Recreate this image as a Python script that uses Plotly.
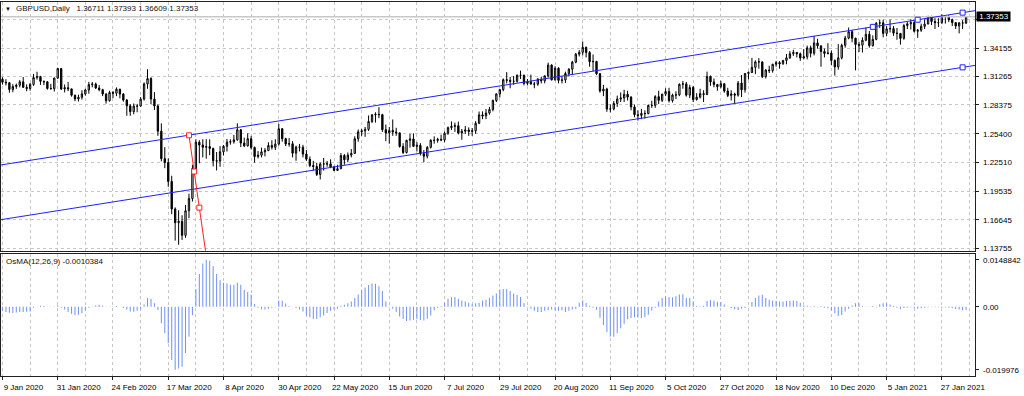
import plotly.graph_objects as go

# ---------------- data ----------------
symbol_title = "GBPUSD,Daily\u00a0\u00a0 1.36711 1.37393 1.36609 1.37353"
indicator_title = "OsMA(12,26,9) -0.0010384"

date_labels = ["9 Jan 2020", "31 Jan 2020", "24 Feb 2020", "17 Mar 2020", "8 Apr 2020",
               "30 Apr 2020", "22 May 2020", "15 Jun 2020", "7 Jul 2020", "29 Jul 2020",
               "20 Aug 2020", "11 Sep 2020", "5 Oct 2020", "27 Oct 2020", "18 Nov 2020",
               "10 Dec 2020", "5 Jan 2021", "27 Jan 2021"]
date_label_bars = [0, 16, 32, 48, 64, 80, 96, 112, 128, 144, 160, 176, 192, 208, 224, 240, 256, 272]

price_ticks = [1.37045, 1.34155, 1.31265, 1.28375, 1.25400, 1.22510, 1.19535, 1.16645, 1.13755]
price_tick_labels = ["", "1.34155", "1.31265", "1.28375", "1.25400", "1.22510", "1.19535", "1.16645", "1.13755"]

osma_ticks = [0.0148842, 0.0, -0.019976]
osma_tick_labels = ["0.0148842", "0.00", "-0.019976"]

opens = [
    1.3098,1.3067,1.3062,1.2993,1.3023,1.3036,1.3071,1.3015,1.3003,1.3045,
    1.3114,1.3124,1.3076,1.3071,1.3003,1.3001,1.3109,1.3206,1.2998,1.3011,
    1.2999,1.2934,1.2896,1.2913,1.2948,1.2988,1.3043,1.3048,1.3008,1.2991,
    1.2947,1.2878,1.2962,1.2955,1.2996,1.2947,1.2885,1.2826,1.2767,1.2823,
    1.2824,1.2895,1.3049,1.3104,1.2895,1.2825,1.2567,1.2287,1.2248,1.2055,
    1.1774,1.1634,1.1647,1.1505,1.1756,1.1881,1.2185,1.2455,1.2426,1.2403,
    1.2411,1.2391,1.2266,1.2263,1.2357,1.2413,1.2456,1.2460,1.2480,1.2582,
    1.2446,1.2418,1.2491,1.2402,1.2309,1.2323,1.2357,1.2369,1.2421,1.2403,
    1.2436,1.2592,1.2491,1.2437,1.2439,1.2343,1.2405,1.2404,1.2334,1.2282,
    1.2218,1.2207,1.2126,1.2232,1.2234,1.2234,1.2202,1.2167,1.2185,1.2319,
    1.2276,1.2323,1.2341,1.2490,1.2561,1.2571,1.2586,1.2666,1.2733,1.2739,
    1.2736,1.2583,1.2549,1.2575,1.2560,1.2550,1.2411,1.2350,1.2474,1.2488,
    1.2413,1.2423,1.2337,1.2312,1.2403,1.2475,1.2473,1.2484,1.2478,1.2546,
    1.2604,1.2617,1.2624,1.2549,1.2567,1.2580,1.2565,1.2572,1.2648,1.2734,
    1.2723,1.2753,1.2788,1.2881,1.2948,1.2992,1.3093,1.3086,1.3076,1.3076,
    1.3139,1.3138,1.3055,1.3071,1.3050,1.3047,1.3097,1.3081,1.3132,1.3242,
    1.3091,1.3210,1.3086,1.3090,1.3156,1.3200,1.3272,1.3353,1.3372,1.3423,
    1.3370,1.3276,1.3279,1.3154,1.2977,1.2997,1.2793,1.2795,1.2850,1.2895,
    1.2906,1.2944,1.2915,1.2815,1.2736,1.2728,1.2749,1.2747,1.2830,1.2831,
    1.2920,1.2882,1.2945,1.2972,1.2879,1.2936,1.2938,1.3046,1.3050,1.2935,
    1.3013,1.2890,1.2915,1.2951,1.2942,1.3126,1.3070,1.3043,1.3022,1.3052,
    1.2977,1.2932,1.2947,1.2935,1.3058,1.2990,1.3156,1.3166,1.3219,1.3275,
    1.3274,1.3124,1.3191,1.3185,1.3250,1.3267,1.3255,1.3289,1.3316,1.3357,
    1.3371,1.3357,1.3314,1.3327,1.3418,1.3362,1.3468,1.3438,1.3380,1.3360,
    1.3364,1.3289,1.3223,1.3316,1.3443,1.3517,1.3582,1.3516,1.3452,1.3445,
    1.3495,1.3556,1.3440,1.3504,1.3669,1.3673,1.3565,1.3611,1.3614,1.3568,
    1.3565,1.3514,1.3645,1.3663,1.3675,1.3587,1.3597,1.3637,1.3660,1.3733,
    1.3687,1.3674,1.3675,1.3737,1.3735,1.3705,1.3675,1.3641,1.3672,1.36711]

highs = [
    1.3118,1.3098,1.3068,1.3047,1.3053,1.3089,1.3120,1.3044,1.3059,1.3152,
    1.3174,1.3132,1.3084,1.3078,1.3050,1.3115,1.3214,1.3208,1.3044,1.3070,
    1.3002,1.2941,1.2940,1.2985,1.3000,1.3070,1.3069,1.3063,1.3038,1.3000,
    1.2954,1.2980,1.2978,1.3014,1.3000,1.2955,1.2895,1.2844,1.2850,1.2846,
    1.2915,1.3065,1.3200,1.3118,1.2966,1.2840,1.2647,1.2405,1.2290,1.2113,
    1.1790,1.1760,1.1710,1.1815,1.1930,1.2225,1.2485,1.2475,1.2485,1.2486,
    1.2484,1.2400,1.2355,1.2415,1.2426,1.2488,1.2485,1.2530,1.2648,1.2590,
    1.2502,1.2545,1.2520,1.2410,1.2365,1.2400,1.2395,1.2455,1.2475,1.2485,
    1.2643,1.2600,1.2500,1.2497,1.2466,1.2420,1.2438,1.2428,1.2375,1.2310,
    1.2265,1.2245,1.2248,1.2295,1.2263,1.2280,1.2215,1.2225,1.2345,1.2335,
    1.2350,1.2385,1.2515,1.2585,1.2590,1.2610,1.2728,1.2743,1.2760,1.2812,
    1.2745,1.2635,1.2610,1.2687,1.2602,1.2555,1.2445,1.2480,1.2540,1.2545,
    1.2455,1.2445,1.2375,1.2415,1.2485,1.2515,1.2500,1.2532,1.2565,1.2615,
    1.2667,1.2655,1.2665,1.2590,1.2620,1.2606,1.2600,1.2670,1.2768,1.2770,
    1.2793,1.2815,1.2890,1.2952,1.2993,1.3105,1.3170,1.3120,1.3130,1.3145,
    1.3185,1.3145,1.3100,1.3145,1.3070,1.3110,1.3120,1.3135,1.3267,1.3250,
    1.3230,1.3220,1.3130,1.3175,1.3210,1.3285,1.3365,1.3395,1.3482,1.3430,
    1.3385,1.3350,1.3285,1.3160,1.3040,1.3010,1.2840,1.2875,1.2930,1.2963,
    1.2990,1.2980,1.2925,1.2840,1.2780,1.2795,1.2780,1.2840,1.2878,1.2935,
    1.2980,1.2950,1.3005,1.3010,1.2950,1.2975,1.3055,1.3080,1.3070,1.3040,
    1.3030,1.2955,1.3000,1.2985,1.3175,1.3135,1.3105,1.3050,1.3082,1.3055,
    1.3010,1.2985,1.2960,1.3080,1.3140,1.3160,1.3177,1.3315,1.3290,1.3313,
    1.3280,1.3200,1.3235,1.3255,1.3285,1.3282,1.3295,1.3355,1.3385,1.3398,
    1.3375,1.3370,1.3405,1.3440,1.3440,1.3540,1.3510,1.3440,1.3410,1.3465,
    1.3390,1.3300,1.3455,1.3460,1.3540,1.3625,1.3600,1.3520,1.3480,1.3525,
    1.3625,1.3590,1.3545,1.3680,1.3705,1.3705,1.3640,1.3705,1.3640,1.3620,
    1.3565,1.3660,1.3680,1.3710,1.3690,1.3610,1.3665,1.3710,1.3745,1.3745,
    1.3720,1.3720,1.3760,1.3745,1.3750,1.3715,1.3680,1.3680,1.3700,1.37393]

lows = [
    1.3043,1.3033,1.2960,1.2965,1.2999,1.3014,1.3008,1.2975,1.2981,1.3030,
    1.3093,1.3040,1.3037,1.2991,1.2992,1.2972,1.3101,1.2988,1.2963,1.2976,
    1.2920,1.2873,1.2870,1.2890,1.2930,1.2950,1.3015,1.2998,1.2975,1.2925,
    1.2849,1.2870,1.2905,1.2925,1.2903,1.2869,1.2725,1.2725,1.2740,1.2760,
    1.2816,1.2880,1.3000,1.2843,1.2784,1.2520,1.2260,1.2190,1.2000,1.1720,
    1.1451,1.1409,1.1458,1.1480,1.1680,1.1850,1.2150,1.2240,1.2300,1.2287,
    1.2322,1.2208,1.2167,1.2205,1.2320,1.2360,1.2430,1.2440,1.2470,1.2405,
    1.2405,1.2410,1.2380,1.2247,1.2290,1.2300,1.2310,1.2366,1.2380,1.2375,
    1.2420,1.2460,1.2415,1.2410,1.2300,1.2266,1.2361,1.2300,1.2265,1.2200,
    1.2165,1.2110,1.2075,1.2165,1.2205,1.2190,1.2160,1.2162,1.2180,1.2225,
    1.2250,1.2300,1.2335,1.2460,1.2520,1.2510,1.2570,1.2650,1.2655,1.2700,
    1.2560,1.2465,1.2440,1.2520,1.2520,1.2400,1.2335,1.2340,1.2400,1.2405,
    1.2360,1.2320,1.2252,1.2290,1.2390,1.2440,1.2450,1.2465,1.2455,1.2530,
    1.2580,1.2560,1.2535,1.2480,1.2540,1.2520,1.2520,1.2540,1.2640,1.2690,
    1.2690,1.2735,1.2770,1.2865,1.2910,1.2975,1.3055,1.3005,1.3040,1.3065,
    1.3100,1.3035,1.3035,1.3040,1.3005,1.3030,1.3055,1.3055,1.3115,1.3085,
    1.3085,1.3055,1.3055,1.3060,1.3125,1.3140,1.3260,1.3330,1.3340,1.3320,
    1.3225,1.3180,1.3140,1.2960,1.2925,1.2765,1.2760,1.2780,1.2815,1.2865,
    1.2865,1.2880,1.2780,1.2710,1.2676,1.2690,1.2695,1.2740,1.2805,1.2805,
    1.2845,1.2865,1.2925,1.2860,1.2860,1.2895,1.2925,1.3000,1.2920,1.2905,
    1.2865,1.2880,1.2900,1.2865,1.2935,1.3030,1.3015,1.2980,1.3005,1.2960,
    1.2915,1.2880,1.2855,1.2920,1.2915,1.2960,1.3095,1.3160,1.3150,1.3205,
    1.3110,1.3105,1.3160,1.3165,1.3225,1.3205,1.3245,1.3250,1.3305,1.3335,
    1.3320,1.3285,1.3300,1.3300,1.3320,1.3340,1.3410,1.3225,1.3320,1.3350,
    1.3240,1.3134,1.3195,1.3300,1.3420,1.3505,1.3475,1.3188,1.3375,1.3370,
    1.3485,1.3420,1.3430,1.3495,1.3620,1.3525,1.3535,1.3575,1.3540,1.3500,
    1.3450,1.3500,1.3610,1.3605,1.3575,1.3520,1.3580,1.3610,1.3660,1.3650,
    1.3610,1.3630,1.3660,1.3665,1.3680,1.3640,1.3610,1.3565,1.3610,1.36609]

closes = [
    1.3067,1.3062,1.2993,1.3023,1.3036,1.3071,1.3015,1.3003,1.3045,1.3114,
    1.3124,1.3076,1.3071,1.3003,1.3001,1.3109,1.3206,1.2998,1.3011,1.2999,
    1.2934,1.2896,1.2913,1.2948,1.2988,1.3043,1.3048,1.3008,1.2991,1.2947,
    1.2878,1.2962,1.2955,1.2996,1.2947,1.2885,1.2826,1.2767,1.2823,1.2824,
    1.2895,1.3049,1.3104,1.2895,1.2825,1.2567,1.2287,1.2248,1.2055,1.1774,
    1.1634,1.1647,1.1505,1.1756,1.1881,1.2185,1.2455,1.2426,1.2403,1.2411,
    1.2391,1.2266,1.2263,1.2357,1.2413,1.2456,1.2460,1.2480,1.2582,1.2446,
    1.2418,1.2491,1.2402,1.2309,1.2323,1.2357,1.2369,1.2421,1.2403,1.2436,
    1.2592,1.2491,1.2437,1.2439,1.2343,1.2405,1.2404,1.2334,1.2282,1.2218,
    1.2207,1.2126,1.2232,1.2234,1.2234,1.2202,1.2167,1.2185,1.2319,1.2276,
    1.2323,1.2341,1.2490,1.2561,1.2571,1.2586,1.2666,1.2733,1.2739,1.2736,
    1.2583,1.2549,1.2575,1.2560,1.2550,1.2411,1.2350,1.2474,1.2488,1.2413,
    1.2423,1.2337,1.2312,1.2403,1.2475,1.2473,1.2484,1.2478,1.2546,1.2604,
    1.2617,1.2624,1.2549,1.2567,1.2580,1.2565,1.2572,1.2648,1.2734,1.2723,
    1.2753,1.2788,1.2881,1.2948,1.2992,1.3093,1.3086,1.3076,1.3076,1.3139,
    1.3138,1.3055,1.3071,1.3050,1.3047,1.3097,1.3081,1.3132,1.3242,1.3091,
    1.3210,1.3086,1.3090,1.3156,1.3200,1.3272,1.3353,1.3372,1.3423,1.3370,
    1.3276,1.3279,1.3154,1.2977,1.2997,1.2793,1.2795,1.2850,1.2895,1.2906,
    1.2944,1.2915,1.2815,1.2736,1.2728,1.2749,1.2747,1.2830,1.2831,1.2920,
    1.2882,1.2945,1.2972,1.2879,1.2936,1.2938,1.3046,1.3050,1.2935,1.3013,
    1.2890,1.2915,1.2951,1.2942,1.3126,1.3070,1.3043,1.3022,1.3052,1.2977,
    1.2932,1.2947,1.2935,1.3058,1.2990,1.3156,1.3166,1.3219,1.3275,1.3274,
    1.3124,1.3191,1.3185,1.3250,1.3267,1.3255,1.3289,1.3316,1.3357,1.3371,
    1.3357,1.3314,1.3327,1.3418,1.3362,1.3468,1.3438,1.3380,1.3360,1.3364,
    1.3289,1.3223,1.3316,1.3443,1.3517,1.3582,1.3516,1.3452,1.3445,1.3495,
    1.3556,1.3440,1.3504,1.3669,1.3673,1.3565,1.3611,1.3614,1.3568,1.3565,
    1.3514,1.3645,1.3663,1.3675,1.3587,1.3597,1.3637,1.3660,1.3733,1.3687,
    1.3674,1.3675,1.3737,1.3735,1.3705,1.3675,1.3641,1.3672,1.3671,1.37353]

osma = [
    -0.0013,-0.0017,-0.0019,-0.0020,-0.0018,-0.0017,-0.0017,-0.0016,-0.0015,
    -0.0003,0.0001,0.0003,0.0002,0.0000,-0.0001,0.0001,0.0004,
    -0.0003,-0.0009,-0.0017,-0.0022,-0.0027,-0.0025,-0.0020,-0.0011,
    -0.0003,0.0001,0.0004,0.0006,0.0003,0.0001,-0.0001,0.0001,0.0002,0.0000,
    -0.0004,-0.0009,-0.0015,-0.0016,-0.0013,-0.0007,
    0.0007,0.0028,0.0025,0.0011,
    -0.0010,-0.0052,-0.0084,-0.0116,-0.0169,-0.019976,-0.0196,-0.0190,-0.0147,-0.0095,-0.0027,
    0.0056,0.0104,0.0137,0.0148842,0.0146,0.0129,0.0104,0.0084,0.0076,0.0074,0.0070,0.0070,
    0.0076,0.0070,0.0054,0.0047,0.0039,0.0009,
    -0.0003,-0.0008,-0.0009,-0.0006,-0.0003,-0.0002,
    0.0020,0.0019,0.0010,0.0002,
    -0.0001,-0.0003,-0.0009,-0.0015,-0.0028,-0.0033,-0.0039,-0.0039,-0.0033,-0.0028,-0.0020,
    -0.0013,-0.0008,-0.0006,
    0.0003,0.0006,0.0011,0.0017,0.0028,0.0039,0.0054,0.0061,0.0069,0.0074,0.0073,0.0065,
    0.0050,0.0017,
    -0.0002,-0.0006,-0.0017,-0.0031,-0.0039,-0.0045,-0.0044,-0.0041,-0.0040,-0.0042,-0.0044,
    -0.0038,-0.0028,-0.0011,-0.0003,
    0.0002,0.0013,0.0025,0.0030,0.0031,0.0025,0.0020,0.0017,0.0013,0.0008,0.0011,0.0013,
    0.0020,0.0022,0.0028,0.0036,0.0042,0.0055,0.0056,
    0.0056,0.0050,0.0042,0.0037,0.0031,0.0011,
    -0.0002,-0.0006,-0.0013,-0.0017,-0.0017,-0.0013,-0.0011,-0.0009,-0.0011,-0.0013,-0.0011,
    -0.0017,-0.0013,-0.0009,-0.0007,
    0.0013,0.0020,0.0012,0.0003,
    -0.0003,-0.0010,-0.0035,-0.0058,-0.0080,-0.0094,-0.0095,-0.0084,-0.0068,-0.0054,-0.0040,
    -0.0036,-0.0034,-0.0034,-0.0036,-0.0033,-0.0025,-0.0012,-0.0003,
    0.0017,0.0028,0.0033,0.0031,0.0030,0.0033,0.0039,0.0040,0.0028,0.0028,0.0017,0.0002,
    0.0001,0.0003,0.0018,0.0021,0.0019,0.0016,0.0015,0.0007,0.0001,-0.0004,-0.0008,-0.0010,
    -0.0006,-0.0004,-0.0001,
    0.0015,0.0028,0.0036,0.0038,0.0028,0.0022,0.0020,0.0019,0.0017,0.0017,0.0018,0.0019,
    0.0020,0.0018,0.0013,0.0004,
    0.0003,-0.0002,0.0002,-0.0002,0.0002,-0.0003,-0.0005,
    -0.0012,-0.0021,-0.0029,-0.0026,-0.0015,-0.0006,
    0.0004,0.0011,0.0011,0.0002,-0.0001,0.0001,0.0002,-0.0002,0.0008,0.0011,0.0011,0.0007,0.0002,
    -0.0003,-0.0008,-0.0004,-0.0003,-0.0002,-0.0004,-0.0006,-0.0005,-0.0003,-0.0002,-0.0001,
    -0.0002,-0.0002,-0.0003,-0.0002,-0.0003,-0.0004,-0.0007,-0.0009,-0.0011,-0.0010384]

# drawn objects (anchor bar index, price)
channel_anchor_bars = [252, 278]
channel_upper_prices = [1.36317, 1.37768]
channel_lower_anchor_price = 1.32186
channel_upper_square_bars = [252, 265, 278]
trend_anchor_bars = [54, 57]
trend_anchor_prices = [1.25253, 1.17874]

bars = list(range(len(closes)))

# ---------------- figure ----------------
W, H = 1024, 396
FONT = "Liberation Sans"
GRID = "#c6c6c6"
AXC = "#202020"

x_lo, x_hi = -0.43, 281.7

fig = go.Figure()

# bid line
fig.add_trace(go.Scatter(x=[x_lo - 2, x_hi + 2], y=[closes[-1], closes[-1]], mode="lines",
                         line=dict(color="#c8c8c8", width=1.5), xaxis="x2", yaxis="y",
                         hoverinfo="skip"))

fig.add_trace(go.Candlestick(
    x=bars, open=opens, high=highs, low=lows, close=closes,
    xaxis="x2", yaxis="y", whiskerwidth=0,
    increasing=dict(line=dict(color="black", width=1), fillcolor="white"),
    decreasing=dict(line=dict(color="black", width=1), fillcolor="black"),
    hoverinfo="skip"))

# equidistant channel (extended across the window)
slope = (channel_upper_prices[1] - channel_upper_prices[0]) / (channel_anchor_bars[1] - channel_anchor_bars[0])
ext_x = [x_lo - 2, x_hi + 2]
upper_y = [channel_upper_prices[1] + slope * (xx - channel_anchor_bars[1]) for xx in ext_x]
gap = channel_upper_prices[1] - channel_lower_anchor_price
lower_y = [yy - gap for yy in upper_y]
blue = "#2020ff"
fig.add_trace(go.Scatter(x=ext_x, y=upper_y, mode="lines", line=dict(color=blue, width=1),
                         xaxis="x2", yaxis="y", hoverinfo="skip"))
fig.add_trace(go.Scatter(x=ext_x, y=lower_y, mode="lines", line=dict(color=blue, width=1),
                         xaxis="x2", yaxis="y", hoverinfo="skip"))
sq_x = channel_upper_square_bars + [channel_anchor_bars[1]]
sq_y = [channel_upper_prices[1] + slope * (b - channel_anchor_bars[1]) for b in channel_upper_square_bars] \
       + [channel_lower_anchor_price]
fig.add_trace(go.Scatter(x=sq_x, y=sq_y, mode="markers",
                         marker=dict(symbol="square", size=5, color="white", line=dict(color=blue, width=1)),
                         xaxis="x2", yaxis="y", hoverinfo="skip"))

# red trend line (ray)
tslope = (trend_anchor_prices[1] - trend_anchor_prices[0]) / (trend_anchor_bars[1] - trend_anchor_bars[0])
t_end = trend_anchor_bars[1] + 6
fig.add_trace(go.Scatter(x=[trend_anchor_bars[0], t_end],
                         y=[trend_anchor_prices[0], trend_anchor_prices[0] + tslope * (t_end - trend_anchor_bars[0])],
                         mode="lines", line=dict(color="#ff2020", width=1),
                         xaxis="x2", yaxis="y", hoverinfo="skip"))
t_mid = (trend_anchor_bars[0] + trend_anchor_bars[1]) / 2
fig.add_trace(go.Scatter(x=[trend_anchor_bars[0], t_mid, trend_anchor_bars[1]],
                         y=[trend_anchor_prices[0], (trend_anchor_prices[0] + trend_anchor_prices[1]) / 2,
                            trend_anchor_prices[1]],
                         mode="markers",
                         marker=dict(symbol="square", size=5, color="white", line=dict(color="#ff2020", width=1)),
                         xaxis="x2", yaxis="y", hoverinfo="skip"))

# OsMA histogram
fig.add_trace(go.Bar(x=bars, y=osma, width=0.3, marker=dict(color="#7394f2", line=dict(width=0)),
                     xaxis="x", yaxis="y2", hoverinfo="skip"))

px_x = lambda p: p / W
px_y = lambda p: (H - p) / H

xgrid = dict(showgrid=True, gridcolor=GRID, griddash="3px,3px", gridwidth=1,
             minor=dict(dtick=8, tick0=0, showgrid=True, gridcolor=GRID, griddash="3px,3px",
                        gridwidth=1, ticks=""))

fig.update_layout(
    width=W, height=H, margin=dict(l=0, r=0, t=0, b=0),
    paper_bgcolor="white", plot_bgcolor="white", showlegend=False, hovermode=False,
    boxgap=0.45, font=dict(family=FONT, size=8, color="black"),
    xaxis=dict(domain=[px_x(1), px_x(985)], anchor="y2", range=[x_lo, x_hi],
               tickmode="array", tickvals=date_label_bars, ticktext=date_labels,
               ticks="outside", ticklen=3, tickcolor=AXC, ticklabelshift=21,
               ticklabeloverflow="allow", tickfont=dict(family=FONT, size=8, color="black"),
               showline=True, mirror=True, linecolor=AXC, linewidth=1, zeroline=False,
               rangeslider=dict(visible=False), **xgrid),
    xaxis2=dict(domain=[px_x(1), px_x(985)], anchor="y", matches="x", range=[x_lo, x_hi],
                tickmode="array", tickvals=date_label_bars, showticklabels=False, ticks="",
                showline=True, mirror=True, linecolor=AXC, linewidth=1, zeroline=False,
                rangeslider=dict(visible=False), **xgrid),
    yaxis=dict(domain=[px_y(252), px_y(2)], anchor="x2", side="right",
               range=[1.13480, 1.38854], tickmode="array", tickvals=price_ticks,
               ticktext=price_tick_labels, ticks="outside", ticklen=3, tickcolor=AXC,
               ticklabelstandoff=2,
               tickfont=dict(family=FONT, size=8, color="black"),
               showgrid=True, gridcolor=GRID, griddash="3px,3px", gridwidth=1,
               showline=True, mirror=True, linecolor=AXC, linewidth=1, zeroline=False),
    yaxis2=dict(domain=[px_y(378), px_y(255)], anchor="x", side="right",
                range=[-0.02199, 0.016816], tickmode="array", tickvals=osma_ticks,
                ticktext=osma_tick_labels, ticks="outside", ticklen=3, tickcolor=AXC,
                ticklabelstandoff=2,
                tickfont=dict(family=FONT, size=8, color="black"),
                showgrid=False, showline=True, mirror=True, linecolor=AXC, linewidth=1,
                zeroline=False),
)

fig.add_annotation(xref="paper", yref="paper", x=px_x(3.5), y=px_y(9), xanchor="left",
                   yanchor="middle", text="\u25bc", showarrow=False,
                   font=dict(family=FONT, size=6, color="black"))
fig.add_annotation(xref="paper", yref="paper", x=px_x(14), y=px_y(9), xanchor="left",
                   yanchor="middle", text=symbol_title, showarrow=False,
                   font=dict(family=FONT, size=8, color="#111"))
fig.add_annotation(xref="paper", yref="paper", x=px_x(4), y=px_y(262.5), xanchor="left",
                   yanchor="middle", text=indicator_title, showarrow=False,
                   font=dict(family=FONT, size=8, color="#111"))
fig.add_annotation(xref="paper", yref="y", x=px_x(986), y=closes[-1], xanchor="left",
                   yanchor="middle", text=" %.5f " % closes[-1], showarrow=False,
                   bgcolor="black", borderpad=0,
                   font=dict(family=FONT, size=8, color="white"))

fig.write_html("out.html", config={"displayModeBar": False, "staticPlot": True},
               post_script="document.body.style.margin='0';document.body.style.overflow='hidden';")
